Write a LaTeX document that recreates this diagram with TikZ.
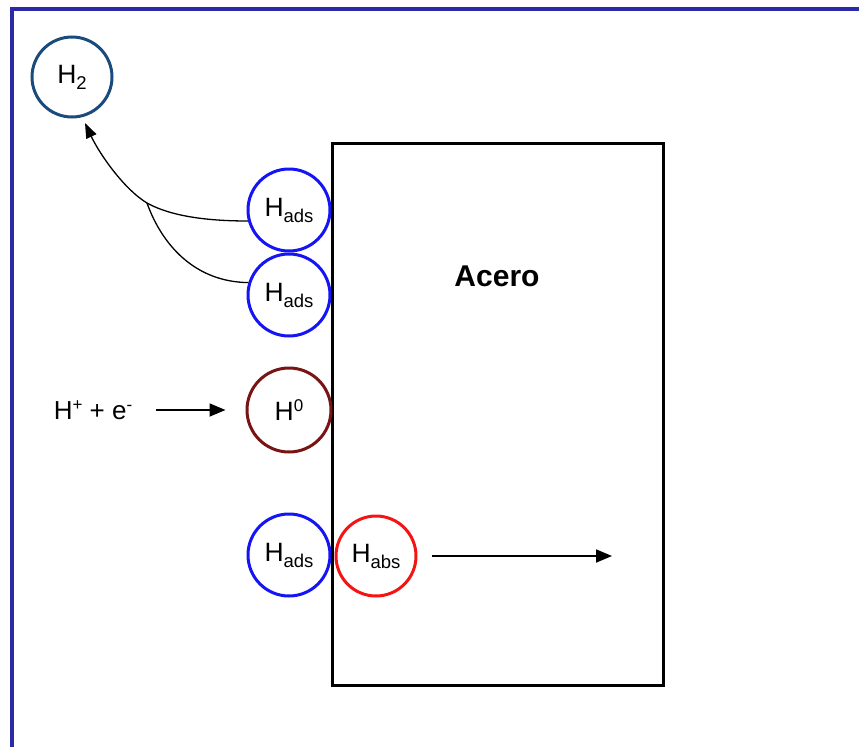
\documentclass[tikz,border=0pt]{standalone}
\usepackage{fontspec}
\setmainfont{Liberation Sans}
\usetikzlibrary{arrows.meta}
\definecolor{framecol}{RGB}{43,43,168}
\definecolor{htwocol}{RGB}{25,75,125}
\definecolor{adscol}{RGB}{20,20,245}
\definecolor{hzerocol}{RGB}{120,20,20}
\definecolor{abscol}{RGB}{245,20,20}
\newcommand{\Hsub}[1]{H\raisebox{-6pt}{\fontsize{18.5}{22}\selectfont #1}}
\newcommand{\Hsup}[1]{H\raisebox{9pt}{\fontsize{17}{20}\selectfont #1}}
\begin{document}
\begin{tikzpicture}[x=1pt,y=-1pt,
  atom/.style={circle,draw,line width=3pt,inner sep=0pt,minimum size=82pt,
    font=\fontsize{26.5}{30}\selectfont},
  arr/.style={line width=1.8pt,-{Triangle[length=16pt,width=13pt]}},
  curv/.style={line width=1.3pt},
  curvarr/.style={line width=1.3pt,-{Triangle[length=15pt,width=11pt]}}]
\fill[white] (0,0) rectangle (859,747);
\useasboundingbox (0,0) rectangle (859,747);
% frame
\fill[framecol] (10,7) rectangle (859,11);
\fill[framecol] (10,7) rectangle (14,747);
% steel block
\node[draw,line width=3pt,minimum width=331pt,minimum height=542pt,inner sep=0pt]
  (block) at (497.5,414) {};
\node[font=\bfseries\fontsize{30}{34}\selectfont] (acero) at (497,276) {Acero};
% atoms
\node[atom,draw=htwocol,minimum size=80pt] (htwo) at (72,77) {\Hsub{2}};
\node[atom,draw=adscol] (a1) at (289,210) {\Hsub{ads}};
\node[atom,draw=adscol] (a2) at (289,295) {\Hsub{ads}};
\node[atom,draw=hzerocol,minimum size=84pt] (hzero) at (289,410) {\Hsup{0}};
\node[atom,draw=adscol] (a3) at (289,555) {\Hsub{ads}};
\node[atom,draw=abscol,minimum size=80pt] (habs) at (376,556) {\Hsub{abs}};
% reaction label
\node[font=\fontsize{26}{30}\selectfont] (hplus) at (93,410)
  {H\raisebox{9pt}{\fontsize{17}{20}\selectfont +} + e\raisebox{9pt}{\fontsize{17}{20}\selectfont -}};
% connectors
\coordinate (merge) at (147,203);
\coordinate (tip) at (85,123);
\coordinate (absend) at (612,556);
\draw[curvarr] (a1.195) .. controls (195,221) and (165,213) .. (merge)
  .. controls (125,190) and (100,155) .. (tip);
\draw[curv] (a2.163) .. controls (195,282) and (162,245) .. (merge);
\draw[arr,shorten <=20pt,shorten >=20pt] (hplus.east) -- (hplus.east -| hzero.west);
\draw[arr] ([xshift=14pt]habs.east) -- (habs.east -| absend);
\end{tikzpicture}
\end{document}
